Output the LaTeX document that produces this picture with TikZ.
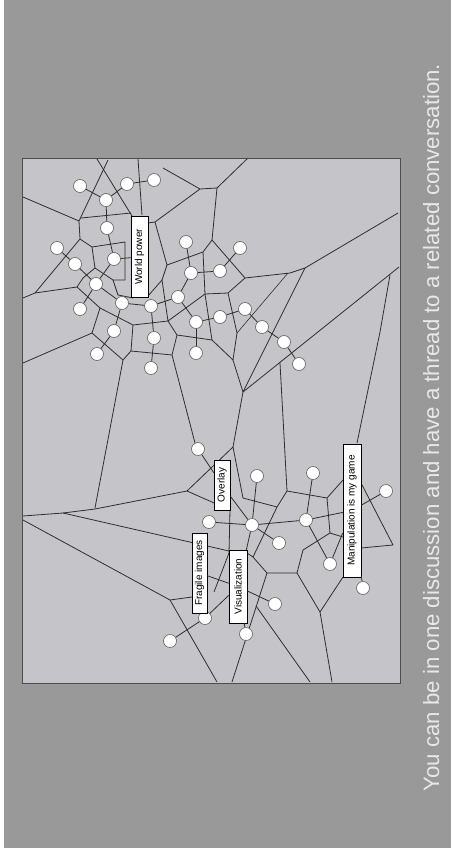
\documentclass[tikz,border=0pt]{standalone}
\usepackage{fontspec}
\setmainfont{Liberation Sans}
\definecolor{outergray}{HTML}{999999}
\definecolor{panelgray}{HTML}{C5C4C8}
\definecolor{edgeink}{HTML}{2E2E2E}
\definecolor{ringgray}{HTML}{6E6E6E}
\definecolor{captext}{HTML}{E8E8E8}

\begin{document}
\begin{tikzpicture}[
  x=1pt, y=-1pt,
  cell/.style={draw=edgeink, line width=0.8pt, line join=round},
  link/.style={draw=edgeink, line width=0.8pt},
  post/.style={circle, draw=ringgray, line width=0.7pt, fill=white,
    minimum size=13pt, inner sep=0pt},
  tag/.style={draw=black, line width=0.5pt, fill=white, rotate=90,
    inner sep=0pt, font=\fontsize{10}{12}\selectfont},
]

% Background and panel
\fill[white] (0,0) rectangle (451,851);
\fill[outergray] (4,0) rectangle (451,848);
\useasboundingbox (0,0) rectangle (451,851);
\fill[panelgray] (22,158) rectangle (400,683);

% ============================================================
% Cell borders
% ============================================================
\draw[cell] (23,197) -- (79,221);
\draw[cell] (97,159) -- (132,216);
\draw[cell] (108,160) -- (79,221) -- (80,239) -- (92,247) -- (125,242) -- (125,280);
\draw[cell] (81,218) -- (131,213);
\draw[cell] (138,159) -- (142,215);
\draw[cell] (163,168) -- (200,189) -- (217,188) -- (248,158);
\draw[cell] (200,189) -- (155,222) -- (148,223);
\draw[cell] (217,188) -- (212,240) -- (245,278) -- (290,273) -- (305,268) -- (398,213);
\draw[cell] (155,222) -- (167,265) -- (203,252) -- (212,240);
\draw[cell] (203,252) -- (205,294) -- (228,293) -- (245,278);
\draw[cell] (80,239) -- (35,293) -- (23,298);
\draw[cell] (35,293) -- (77,287) -- (83,278) -- (95,268) -- (92,247);
\draw[cell] (95,268) -- (113,280) -- (125,280);
\draw[cell] (113,280) -- (118,295) -- (133,298);
\draw[cell] (77,287) -- (100,308) -- (92,333) -- (23,363);
\draw[cell] (100,308) -- (133,325) -- (168,321);
\draw[cell] (167,265) -- (162,280) -- (168,321) -- (205,294);
\draw[cell] (162,280) -- (148,296);
\draw[cell] (168,321) -- (177,335) -- (212,340) -- (233,360);
\draw[cell] (205,294) -- (212,340);
\draw[cell] (177,335) -- (172,355) -- (131,351) -- (133,325);
\draw[cell] (131,351) -- (123,360) -- (92,333);
\draw[cell] (123,360) -- (95,508);
\draw[cell] (172,355) -- (195,443);
\draw[cell] (228,293) -- (237,333) -- (233,360) -- (243,392) -- (233,447)
  -- (243,498) -- (277,507);
\draw[cell, line width=0.6pt] (237,333) -- (288,273);
\draw[cell] (243,392) -- (273,332) -- (305,268);
\draw[cell] (243,392) -- (399,267);
\draw[cell] (390,275) -- (380,332) -- (357,443);
\draw[cell] (280,363) -- (287,491) -- (327,498) -- (343,480);
\draw[cell] (287,491) -- (277,507) -- (253,557) -- (247,553);
\draw[cell] (327,498) -- (330,533) -- (343,537);
\draw[cell] (330,533) -- (303,550) -- (297,573) -- (267,573) -- (253,557);
\draw[cell] (297,573) -- (320,612) -- (343,577);
\draw[cell] (320,612) -- (332,682);
\draw[cell] (267,573) -- (232,682);
\draw[cell] (256,606) -- (310,682);
\draw[cell] (23,516) -- (63,513) -- (95,509) -- (187,491) -- (233,447);
\draw[cell] (187,491) -- (230,510) -- (229,553) -- (214,592);
\draw[cell] (63,513) -- (229,551);
\draw[cell] (23,520) -- (170,600) -- (217,682);
\draw[cell] (170,600) -- (192,597);
\draw[cell] (361,483) -- (393,545) -- (361,548);

% Frame
\draw[draw=black!70, line width=1pt] (22,158) rectangle (400,683);

% ============================================================
% Posts of the upper thread
% ============================================================
\node[post] (w1) at (80,186) {};
\node[post] (w2) at (106,200) {};
\node[post] (w3) at (127,184) {};
\node[post] (w4) at (154,180) {};
\node[post] (w5) at (107,228) {};
\node[post] (w6) at (57,248) {};
\node[post] (w7) at (75,264) {};
\node[post] (w8) at (114,259) {};
\node[post] (w9) at (96,284) {};
\node[post] (w10) at (80,309) {};
\node[post] (w11) at (122,303) {};
\node[post] (w12) at (151,306) {};
\node[post] (w13) at (178,297) {};
\node[post] (w14) at (186,242) {};
\node[post] (w15) at (191,273) {};
\node[post] (w16) at (220,271) {};
\node[post] (w17) at (240,248) {};
\node[post] (w18) at (196,322) {};
\node[post] (w19) at (220,317) {};
\node[post] (w20) at (245,309) {};
\node[post] (w21) at (262,327) {};
\node[post] (w22) at (284,342) {};
\node[post] (w23) at (299,364) {};
\node[post] (w24) at (114,331) {};
\node[post] (w25) at (97,354) {};
\node[post] (w26) at (154,338) {};
\node[post] (w27) at (151,368) {};
\node[post] (w28) at (196,353) {};

% Posts of the lower thread
\node[post] (v1) at (198,449) {};
\node[post] (v2) at (257,476) {};
\node[post] (v3) at (313,473) {};
\node[post] (v4) at (386,491) {};
\node[post] (v5) at (209,522) {};
\node[post] (v6) at (252,525) {};
\node[post] (v7) at (306,520) {};
\node[post] (v8) at (279,543) {};
\node[post] (v9) at (330,564) {};
\node[post] (v10) at (363,588) {};
\node[post] (v11) at (275,604) {};
\node[post] (v12) at (205,618) {};
\node[post] (v13) at (170,641) {};
\node[post] (v14) at (246,634) {};

% Labels
\node[tag, minimum width=81pt, minimum height=17pt] (lblpower) at (139.5,257) {World power};
\node[tag, minimum width=50pt, minimum height=16pt] (lbloverlay) at (222,485) {Overlay};
\node[tag, minimum width=80pt, minimum height=15pt] (lblfragile) at (199.5,573) {Fragile images};
\node[tag, minimum width=73pt, minimum height=18pt] (lblvisual) at (238,586.5) {Visualization};
\node[tag, minimum width=133pt, minimum height=18pt] (lblgame) at (352,510.5) {Manipulation is my game};

% ============================================================
% Replies
% ============================================================
\foreach \a/\b in {w1/w2, w2/w3, w3/w4, w2/w5, w5/w8, w6/w7, w7/w9, w8/w9,
  w9/w10, w9/w11, w11/w12, w12/w13, w13/w15, w14/w15, w15/w16, w16/w17,
  w13/w18, w18/w19, w19/w20, w20/w21, w21/w22, w22/w23, w18/w28, w12/w26,
  w26/w27, w24/w25, w24/w11, w8/lblpower,
  v1/lbloverlay, lbloverlay/v6, v6/v2, v6/v5, v6/v7, v6/v8, v6/lblvisual,
  lblvisual/v14, v7/v3, v7/v9, v7/lblgame, lblgame/v4, v9/lblgame,
  lblgame/v10, v12/v13, lblvisual/v11, lblvisual/v12, lblfragile/lblvisual}
  \draw[link] (\a) -- (\b);

% Caption
\node[rotate=90, anchor=base, text=captext, font=\fontsize{22.2}{26}\selectfont]
  (caption) at (439,427.5) {You can be in one discussion and have a thread to a related conversation.};

\end{tikzpicture}
\end{document}
